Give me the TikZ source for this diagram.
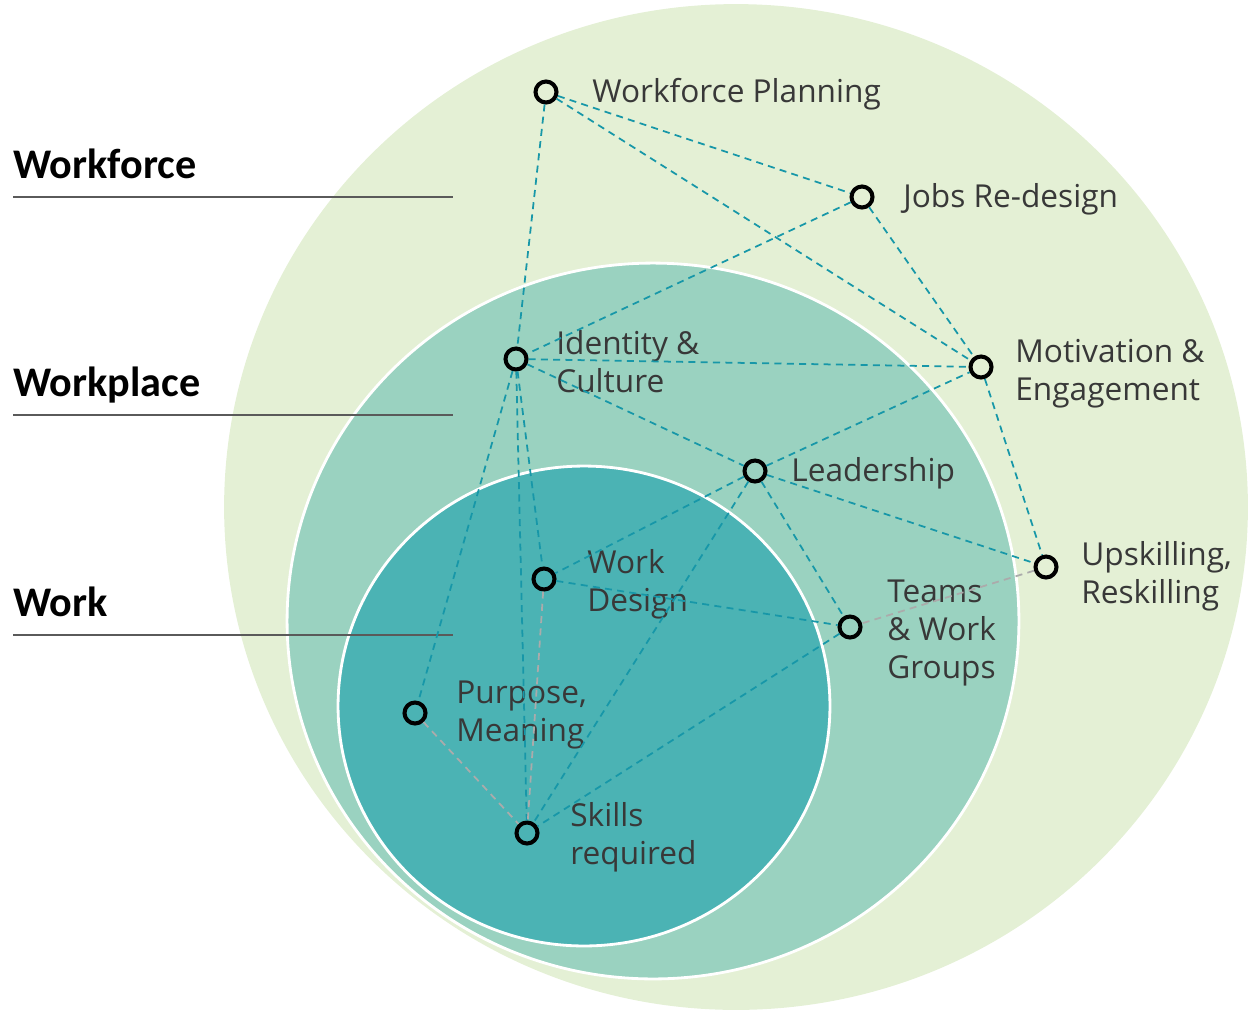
\documentclass[tikz,border=0pt]{standalone}
\usepackage{fontspec}
\setmainfont{Open Sans}
\newfontfamily\headfont{Carlito}
\usetikzlibrary{positioning}
\definecolor{wforce}{HTML}{E4F0D5}
\definecolor{wplace}{HTML}{9AD2C0}
\definecolor{wwork}{HTML}{4BB3B4}
\definecolor{linkteal}{HTML}{1797A8}
\definecolor{linkgray}{HTML}{ABABAB}
\definecolor{labelgray}{HTML}{383838}
\definecolor{rulegray}{HTML}{5A5A5A}

\begin{document}
\begin{tikzpicture}[x=0.02cm,y=-0.02cm,
  pt/.style={circle,draw=black,line width=2.3pt,minimum size=0.42cm,inner sep=0pt},
  lbl/.style={text=labelgray,font=\fontsize{18}{21.6}\selectfont,align=left,inner sep=0pt,anchor=west},
  link/.style={draw=linkteal,line width=1pt,dash pattern=on 4pt off 3pt},
  weak/.style={link,draw=linkgray},
  level/.style={font=\headfont\bfseries\fontsize{24}{28}\selectfont,anchor=base west,inner sep=0pt}]

  \useasboundingbox (0,0) rectangle (1250,1011);

  % the three rings
  \fill[wforce] (736,507) ellipse [x radius=10.24cm, y radius=10.06cm];
  \filldraw[fill=wplace,draw=white,line width=1.6pt] (653,621) ellipse [x radius=7.32cm, y radius=7.16cm];
  \filldraw[fill=wwork,draw=white,line width=1.6pt] (584,706) ellipse [x radius=4.92cm, y radius=4.8cm];

  % level names
  \node[level] (lvforce) at (13,178) {Workforce};
  \node[level] (lvplace) at (13,396) {Workplace};
  \node[level] (lvwork) at (13,616) {Work};
  \draw[rulegray,line width=1.3pt] (13,197) -- (453,197);
  \draw[rulegray,line width=1.3pt] (13,415) -- (453,415);
  \draw[rulegray,line width=1.3pt] (13,635) -- (453,635);

  % topics
  \node[pt] (wp) at (546,92) {};
  \node[pt] (jr) at (862,197) {};
  \node[pt] (ic) at (516,359) {};
  \node[pt] (me) at (981,367) {};
  \node[pt] (ld) at (755,471) {};
  \node[pt] (us) at (1046,567) {};
  \node[pt] (wd) at (544,579) {};
  \node[pt] (tw) at (850,627) {};
  \node[pt] (pm) at (415,713) {};
  \node[pt] (sr) at (527,833) {};

  \node[lbl] (wptext) at (592,94) {Workforce Planning};
  \node[lbl] (jrtext) at (903,199) {Jobs Re-design};
  \node[lbl] (ictext) at (556,362) {Identity \&\\Culture};
  \node[lbl] (metext) at (1015,374) {Motivation \&\\Engagement};
  \node[lbl] (ldtext) at (791,473) {Leadership};
  \node[lbl] (ustext) at (1081,576) {Upskilling,\\Reskilling};
  \node[lbl] (wdtext) at (587,584) {Work\\Design};
  \node[lbl] (twtext) at (887,633) {Teams\\\& Work\\Groups};
  \node[lbl] (pmtext) at (456,715) {Purpose,\\Meaning};
  \node[lbl] (srtext) at (570,837) {Skills\\required};

  % links
  \draw[link] (wp) -- (jr);
  \draw[link] (wp) -- (me);
  \draw[link] (wp) -- (ic);
  \draw[link] (jr) -- (ic);
  \draw[link] (jr) -- (me);
  \draw[link] (ic) -- (me);
  \draw[link] (ic) -- (ld);
  \draw[link] (ic) -- (pm);
  \draw[link] (ic) -- (sr);
  \draw[link] (ic) -- (wd);
  \draw[link] (ld) -- (me);
  \draw[link] (ld) -- (wd);
  \draw[link] (ld) -- (us);
  \draw[link] (ld) -- (tw);
  \draw[link] (ld) -- (sr);
  \draw[link] (me) -- (us);
  \draw[link] (wd) -- (tw);
  \draw[link] (tw) -- (sr);
  \draw[weak] (us) -- (tw);
  \draw[weak] (wd) -- (sr);
  \draw[weak] (pm) -- (sr);
\end{tikzpicture}
\end{document}
